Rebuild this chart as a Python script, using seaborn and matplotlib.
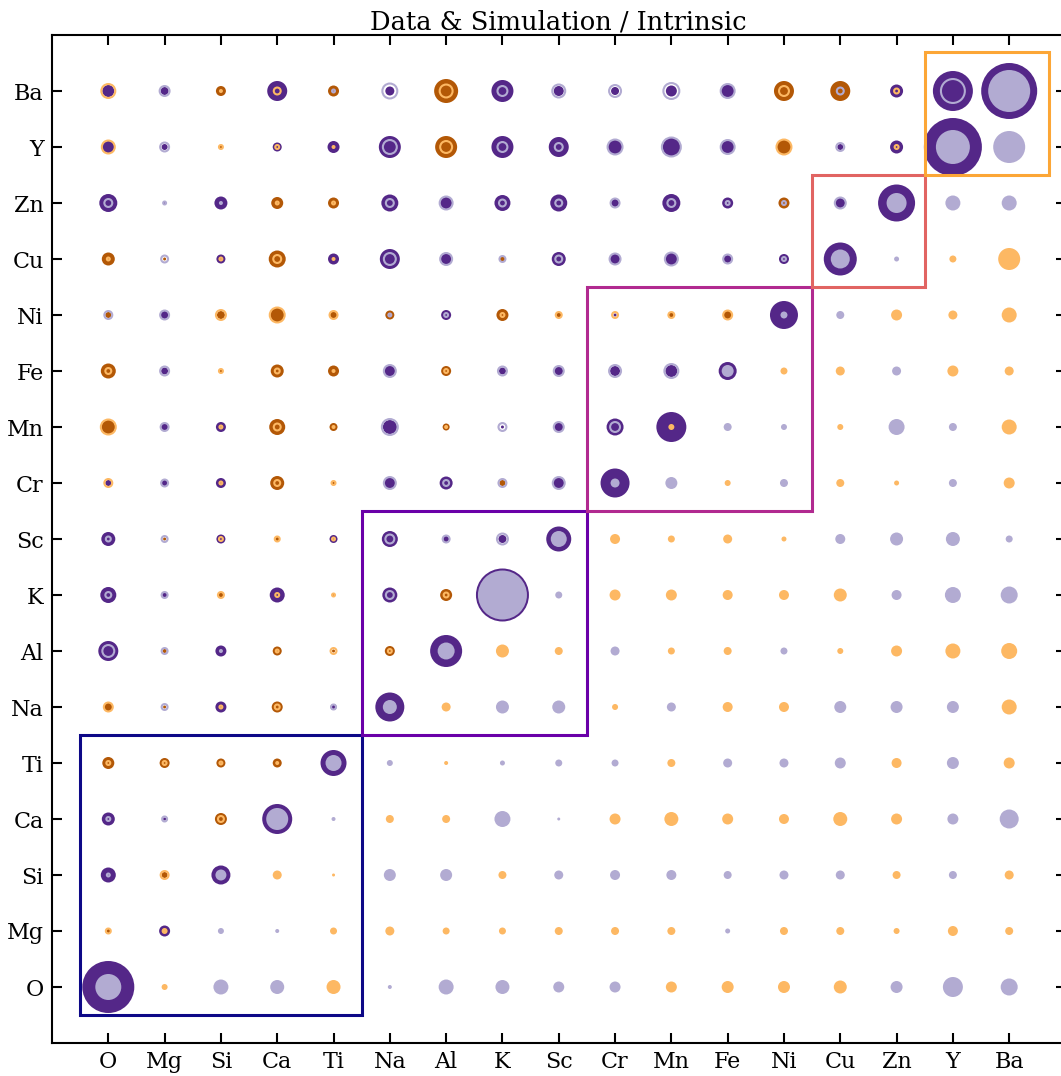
import numpy as np
import pandas as pd
import matplotlib
matplotlib.use("Agg")
import matplotlib.pyplot as plt
from matplotlib.patches import Rectangle
import seaborn as sns

# ---------------- data (units = marker diameter in px) -------------
elements = ["O", "Mg", "Si", "Ca", "Ti", "Na", "Al", "K", "Sc",
            "Cr", "Mn", "Fe", "Ni", "Cu", "Zn", "Y", "Ba"]

# diagonal: data (dark) and intrinsic (light)
diag_data = [52, 11, 19, 30, 26, 29, 32, 53, 25, 29, 30, 18, 28, 33, 37, 58, 56]
diag_intrinsic = [26, -6, 11, 22, 16, 14, 17, 49, 16, 9, -6, 12, 7, 19, 20, 34, 42]

# upper-left triangle, row element vs. columns O..(previous element): data (dark discs)
data_Mg = [-4]
data_Si = [15, -6]
data_Ca = [13, 3, -12]
data_Ti = [-12, -10, -9, -9]
data_Na = [-9, -3, 11, -11, 6]
data_Al = [20, -4, 11, -9, -3, -10]
data_K = [16, 5, -5, 15, -2, 15, -12]
data_Sc = [14, -3, 9, -4, 8, 16, 6, 8]
data_Cr = [6, 7, 10, -14, -3, 12, 13, -6, 12]
data_Mn = [-14, 8, 10, -16, -8, 14, -7, 3, 10, 17]
data_Fe = [-15, 7, -3, -13, -11, 11, -10, 7, 9, 10, 12]
data_Ni = [-6, 8, -8, -14, -7, -9, 10, -12, -5, 3, -5, -9]
data_Cu = [-13, -3, 9, -17, 11, 20, 11, -6, 14, 11, 13, 8, 10]
data_Zn = [18, 3, 13, -12, -11, 17, 12, 16, 17, 8, 18, 11, -11, 10]
data_Y = [12, 6, -4, 9, 12, 22, -22, 22, 20, 14, 18, 14, -14, 6, 13]
data_Ba = [12, 8, -10, 20, -11, 9, -24, 22, 10, 8, 11, 14, -20, -20, 13, 40]

# upper-left triangle: simulation (light rings)
sim_Mg = [-7]
sim_Si = [5, -10]
sim_Ca = [6, 7, -8]
sim_Ti = [-6, -6, -5, -4]
sim_Na = [-11, 8, -5, -7, 7]
sim_Al = [14, 8, 4, -5, -8, -6]
sim_K = [8, 8, -8, -6, -5, 10, -7]
sim_Sc = [7, 8, -6, -7, -5, 11, 9, 13]
sim_Cr = [-10, 9, -5, -8, -6, 14, 8, 10, 14]
sim_Mn = [-17, 10, -5, -9, -4, 18, -4, 10, 12, 12]
sim_Fe = [-8, 11, -6, -7, -4, 14, -6, 11, 12, 14, 16]
sim_Ni = [10, 11, -12, -17, -10, 5, 6, -6, -8, -8, -8, -11]
sim_Cu = [-5, 9, -5, -10, -4, 14, 14, 8, 9, 13, 15, 11, 6]
sim_Zn = [10, 5, 4, -5, -5, 10, 15, 9, 9, 11, 10, 6, 6, 13]
sim_Y = [-15, 11, -6, -6, -4, 16, -14, 12, 10, 17, 21, 16, -17, 10, -6]
sim_Ba = [-16, 12, -4, -9, 5, 17, -15, 12, 15, 14, 18, 16, -12, 9, -7, 26]

# lower-right triangle, row element vs. columns (next element)..Ba: intrinsic (light discs)
intr_O = [-6, 15, 14, -14, 4, 15, 14, 11, 11, -11, -12, -12, -13, 12, 20, 17]
intr_Mg = [6, 4, -7, -9, -7, -7, -8, -8, -8, 5, -8, -8, -6, -10, -8]
intr_Si = [-9, -3, 12, 12, -8, 9, 10, 10, 8, 9, 9, -8, 8, -9]
intr_Ca = [4, -8, -8, 16, 3, -11, -14, -11, -10, -14, -11, 11, 19]
intr_Ti = [6, -4, 5, 7, 7, -8, 9, 9, 11, -10, 12, -11]
intr_Na = [-9, 13, 13, -6, 9, -10, -10, 12, 12, 12, -15]
intr_Al = [-13, -8, 9, -7, -8, 7, -6, -11, -15, -16]
intr_K = [7, -11, -11, -10, -10, -13, 10, 16, 17]
intr_Sc = [-10, -7, -9, -5, 10, 13, 14, 7]
intr_Cr = [12, -6, 8, -8, -5, 8, -11]
intr_Mn = [8, 6, -6, 16, 8, -15]
intr_Fe = [-7, -9, 9, -11, -9]
intr_Ni = [8, -11, -9, -15]
intr_Cu = [5, -7, -22]
intr_Zn = [15, 15]
intr_Y = [32]

groups = [("O", "Ti"), ("Na", "Sc"), ("Cr", "Ni"), ("Cu", "Zn"), ("Y", "Ba")]

data_rows = {"Mg": data_Mg, "Si": data_Si, "Ca": data_Ca, "Ti": data_Ti, "Na": data_Na,
             "Al": data_Al, "K": data_K, "Sc": data_Sc, "Cr": data_Cr, "Mn": data_Mn,
             "Fe": data_Fe, "Ni": data_Ni, "Cu": data_Cu, "Zn": data_Zn, "Y": data_Y,
             "Ba": data_Ba}
sim_rows = {"Mg": sim_Mg, "Si": sim_Si, "Ca": sim_Ca, "Ti": sim_Ti, "Na": sim_Na,
            "Al": sim_Al, "K": sim_K, "Sc": sim_Sc, "Cr": sim_Cr, "Mn": sim_Mn,
            "Fe": sim_Fe, "Ni": sim_Ni, "Cu": sim_Cu, "Zn": sim_Zn, "Y": sim_Y,
            "Ba": sim_Ba}
intr_rows = {"O": intr_O, "Mg": intr_Mg, "Si": intr_Si, "Ca": intr_Ca, "Ti": intr_Ti,
             "Na": intr_Na, "Al": intr_Al, "K": intr_K, "Sc": intr_Sc, "Cr": intr_Cr,
             "Mn": intr_Mn, "Fe": intr_Fe, "Ni": intr_Ni, "Cu": intr_Cu, "Zn": intr_Zn,
             "Y": intr_Y}

# ---------------- styling ----------------
DPI = 100
PX2PT = 72.0 / DPI
RING_LW = 1.5  # pt
DARK = {"pos": "#542788", "neg": "#b35806"}
LIGHT = {"pos": "#b2abd2", "neg": "#fdb863"}

sns.set_theme(style="ticks")
plt.rcParams["font.family"] = ["DejaVu Serif"]
plt.rcParams["text.color"] = "black"

# ---------------- build tables ----------------
dark, light, ring = [], [], []
for r, name in enumerate(elements):
    if name in data_rows:
        for c, v in enumerate(data_rows[name]):
            dark.append((c, r, v))
        for c, v in enumerate(sim_rows[name]):
            ring.append((c, r, v))
    dark.append((r, r, diag_data[r]))
    light.append((r, r, diag_intrinsic[r]))
    if name in intr_rows:
        for k, v in enumerate(intr_rows[name]):
            light.append((r + 1 + k, r, v))


def frame(rows):
    df = pd.DataFrame(rows, columns=["x", "y", "value"])
    df["sign"] = np.where(df["value"] >= 0, "pos", "neg")
    return df


dark_df, light_df, ring_df = frame(dark), frame(light), frame(ring)
dark_area = (dark_df["value"].abs() * PX2PT) ** 2
light_area = (light_df["value"].abs() * PX2PT) ** 2
ring_lw_px = RING_LW / PX2PT
ring_area = (np.clip(ring_df["value"].abs() - ring_lw_px, 0.8, None) * PX2PT) ** 2

# ---------------- figure ----------------
fig = plt.figure(figsize=(1061 / DPI, 1076 / DPI), dpi=DPI)
ax = fig.add_axes([52 / 1061, 33 / 1076, 1013.5 / 1061, 1008 / 1076])

sns.scatterplot(data=dark_df, x="x", y="y", hue="sign", palette=DARK, s=dark_area.values,
                linewidth=0, legend=False, ax=ax, zorder=2)
sns.scatterplot(data=light_df, x="x", y="y", hue="sign", palette=LIGHT, s=light_area.values,
                linewidth=0, legend=False, ax=ax, zorder=3)
sns.scatterplot(data=ring_df, x="x", y="y", hue="sign", palette=LIGHT, s=ring_area.values,
                linewidth=0, legend=False, ax=ax, zorder=4)
rings = ax.collections[-1]
fc = rings.get_facecolors()
rings.set_edgecolors(fc)
rings.set_facecolors("none")
rings.set_linewidths(RING_LW)

box_colors = plt.get_cmap("plasma")(np.linspace(0, 1, len(groups) + 1))[:-1]
box_extra = [0, 0, 0, 0, 0.2]
for (g0, g1), col, extra in zip(groups, box_colors, box_extra):
    i0, i1 = elements.index(g0), elements.index(g1)
    w = i1 - i0 + 1 + extra
    ax.add_patch(Rectangle((i0 - 0.5, i0 - 0.5), w, w, fill=False, edgecolor=col,
                           linewidth=2.2, zorder=6))

ax.set_xlim(-1, 17)
ax.set_ylim(-1, 17)
ax.set_xticks(range(len(elements)))
ax.set_xticklabels(elements)
ax.set_yticks(range(len(elements)))
ax.set_yticklabels(elements)
ax.set_xlabel("")
ax.set_ylabel("")
ax.tick_params(direction="in", length=7, width=1.5, top=True, right=True,
               labelsize=16, colors="black", pad=6)
for sp in ax.spines.values():
    sp.set_visible(True)
    sp.set_linewidth(1.5)
    sp.set_color("black")
ax.set_title("Data & Simulation / Intrinsic", fontsize=18.5, pad=4, color="black")

fig.savefig("out.png", dpi=DPI)
